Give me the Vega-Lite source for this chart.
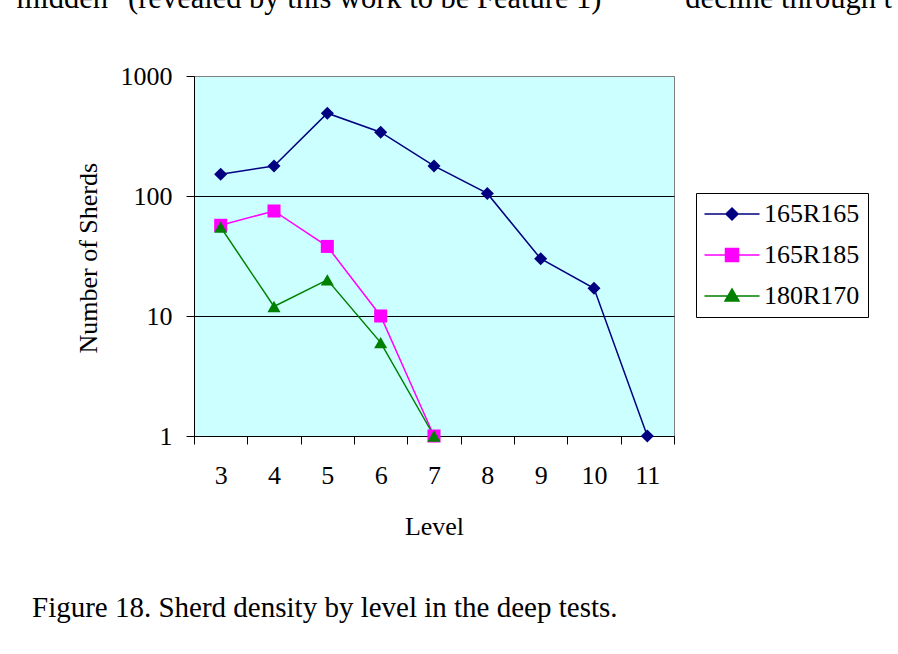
{
  "$schema": "https://vega.github.io/schema/vega-lite/v6.json",
  "width": 480,
  "height": 360,
  "autosize": {"type": "none"},
  "padding": {"left": 194, "top": 76, "right": 224, "bottom": 218},
  "background": "white",
  "title": {
    "text": "Figure 18. Sherd density by level in the deep tests.",
    "orient": "bottom",
    "anchor": "start",
    "frame": "group",
    "dx": -162,
    "offset": 55,
    "font": "Liberation Serif",
    "fontSize": 29,
    "fontWeight": "normal",
    "color": "black"
  },
  "config": {
    "view": {"fill": "#CCFFFF", "stroke": "#808080", "strokeWidth": 1},
    "font": "Liberation Serif"
  },
  "data": {
    "values": [
      {"Test": "165R165", "Level": 3, "Sherds": 152},
      {"Test": "165R165", "Level": 4, "Sherds": 178},
      {"Test": "165R165", "Level": 5, "Sherds": 490},
      {"Test": "165R165", "Level": 6, "Sherds": 340},
      {"Test": "165R165", "Level": 7, "Sherds": 178},
      {"Test": "165R165", "Level": 8, "Sherds": 105},
      {"Test": "165R165", "Level": 9, "Sherds": 30},
      {"Test": "165R165", "Level": 10, "Sherds": 17},
      {"Test": "165R165", "Level": 11, "Sherds": 1},
      {"Test": "165R185", "Level": 3, "Sherds": 57},
      {"Test": "165R185", "Level": 4, "Sherds": 75},
      {"Test": "165R185", "Level": 5, "Sherds": 38},
      {"Test": "165R185", "Level": 6, "Sherds": 10},
      {"Test": "165R185", "Level": 7, "Sherds": 1},
      {"Test": "180R170", "Level": 3, "Sherds": 55},
      {"Test": "180R170", "Level": 4, "Sherds": 12},
      {"Test": "180R170", "Level": 5, "Sherds": 20},
      {"Test": "180R170", "Level": 6, "Sherds": 6},
      {"Test": "180R170", "Level": 7, "Sherds": 1}
    ]
  },
  "resolve": {"axis": {"x": "independent"}},
  "layer": [
    {
      "mark": {"type": "line", "strokeWidth": 1.5},
      "encoding": {
        "x": {
          "field": "Level",
          "type": "ordinal",
          "scale": {"type": "band", "paddingInner": 0, "paddingOuter": 0},
          "axis": {
            "title": "Level",
            "labelAngle": 0,
            "tickBand": "extent",
            "tickSize": 8,
            "tickColor": "black",
            "domainColor": "black",
            "grid": false,
            "labelFont": "Liberation Serif",
            "labelFontSize": 26,
            "labelColor": "black",
            "labelBaseline": "alphabetic",
            "labelPadding": 39,
            "titleFont": "Liberation Serif",
            "titleFontSize": 26,
            "titleFontWeight": "normal",
            "titleColor": "black",
            "titleBaseline": "alphabetic",
            "titleY": 98
          }
        },
        "y": {
          "field": "Sherds",
          "type": "quantitative",
          "scale": {"type": "log", "domain": [1, 1000], "nice": false},
          "axis": {
            "title": "Number of Sherds",
            "values": [1, 10, 100, 1000],
            "format": "d",
            "tickSize": 8,
            "tickColor": "black",
            "domainColor": "black",
            "grid": true,
            "gridColor": {"condition": {"test": "datum.value === 1000", "value": "#808080"}, "value": "black"},
            "gridOpacity": 1,
            "gridWidth": 1,
            "labelFont": "Liberation Serif",
            "labelFontSize": 26,
            "labelColor": "black",
            "labelPadding": 14,
            "labelBaseline": "middle",
            "titleFont": "Liberation Serif",
            "titleFontSize": 26,
            "titleFontWeight": "normal",
            "titleColor": "black",
            "titleAngle": -90,
            "titleAlign": "left",
            "titleBaseline": "alphabetic",
            "titleX": -98,
            "titleY": 277,
            "titleLimit": 198
          }
        },
        "color": {
          "field": "Test",
          "type": "nominal",
          "scale": {"domain": ["165R165", "165R185", "180R170"], "range": ["#000080", "#FF00FF", "#008000"]},
          "legend": {
            "title": null,
            "orient": "none",
            "legendX": 502,
            "legendY": 117,
            "padding": 8,
            "strokeColor": "black",
            "symbolSize": 400,
            "symbolOffset": 15,
            "labelOffset": 19,
            "rowPadding": 15,
            "labelFont": "Liberation Serif",
            "labelFontSize": 26,
            "labelColor": "black",
            "symbolStrokeWidth": 1.5,
            "encode": {
              "symbols": {
                "update": {
                  "shape": {"signal": "datum.value === '165R165' ? 'M-2.75,0L2.75,0M0,-0.6L0.6,0L0,0.6L-0.6,0Z' : datum.value === '165R185' ? 'M-2.75,0L2.75,0M-0.65,-0.65L0.65,-0.65L0.65,0.65L-0.65,0.65Z' : 'M-2.75,0L2.75,0M0,-0.7L0.7,0.5L-0.7,0.5Z'"},
                  "fill": {"signal": "scale('color', datum.value)"},
                  "stroke": {"signal": "scale('color', datum.value)"},
                  "strokeWidth": {"value": 1.5},
                  "strokeOpacity": {"value": 1},
                  "opacity": {"value": 1},
                  "fillOpacity": {"value": 1}
                }
              }
            }
          }
        }
      }
    },
    {
      "mark": {"type": "point", "filled": true, "size": 170, "opacity": 1},
      "encoding": {
        "x": {
          "field": "Level",
          "type": "ordinal",
          "axis": {
            "orient": "top",
            "labels": false,
            "ticks": false,
            "domain": false,
            "grid": false,
            "title": "midden\" (revealed by this work to be Feature 1)\u00a0\u00a0\u00a0\u00a0\u00a0\u00a0\u00a0\u00a0\u00a0\u00a0\u00a0decline through t",
            "titleFont": "Liberation Serif",
            "titleFontSize": 30.5,
            "titleFontWeight": "normal",
            "titleColor": "black",
            "titleAlign": "left",
            "titleBaseline": "alphabetic",
            "titleAngle": 0,
            "titleX": -178,
            "titleY": -69,
            "titleLimit": 3000
          }
        },
        "y": {"field": "Sherds", "type": "quantitative"},
        "color": {"field": "Test", "type": "nominal", "legend": null},
        "shape": {
          "condition": [
            {"test": "datum.Test === '165R165'", "value": "diamond"},
            {"test": "datum.Test === '165R185'", "value": "square"}
          ],
          "value": "triangle-up"
        }
      }
    }
  ]
}
